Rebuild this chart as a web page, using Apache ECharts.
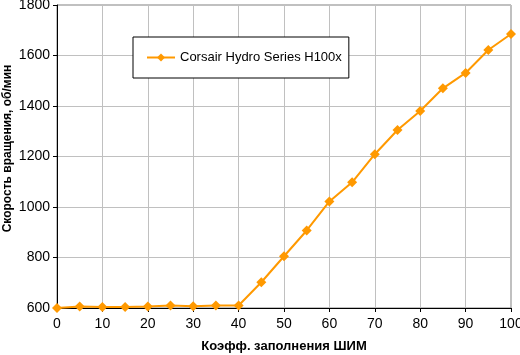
<!DOCTYPE html>
<html>
<head>
<meta charset="utf-8">
<script src="https://cdn.jsdelivr.net/npm/echarts@6/dist/echarts.min.js"></script>
<style>
  html, body { margin: 0; padding: 0; background: #fff; }
  #grafica { width: 520px; height: 355px; }
</style>
</head>
<body>
<div id="grafica"></div>
<script>
// Коэфф. заполнения ШИМ, %
const duty = [0, 5, 10, 15, 20, 25, 30, 35, 40, 45, 50, 55, 60, 65, 70, 75, 80, 85, 90, 95, 100];
// Скорость вращения, об/мин
const rpm = [600, 606, 604, 604, 606, 610, 607, 610, 610, 702, 805, 907, 1022, 1098, 1209, 1305, 1380, 1470, 1531, 1622, 1685];
const seriesName = "Corsair Hydro Series H100x";

const font = "Liberation Sans, Arial, sans-serif";

const option = {
  animation: false,
  backgroundColor: "#ffffff",
  grid: {
    left: 57,
    right: 9,
    top: 5,
    bottom: 47,
    outerBoundsMode: "none",
    containLabel: false,
    show: true,
    borderColor: "#808080",
    borderWidth: 1,
  },
  legend: {
    left: 133,
    top: 37,
    padding: [14, 7, 14, 13],
    backgroundColor: "#ffffff",
    borderColor: "#000000",
    borderWidth: 1,
    borderRadius: 0,
    itemWidth: 28,
    itemHeight: 10,
    itemGap: 4,
    textStyle: { fontFamily: font, fontSize: 13, color: "#000" },
    data: [seriesName],
  },
  xAxis: {
    type: "value",
    min: 0,
    max: 100,
    interval: 10,
    name: "Коэфф. заполнения ШИМ",
    nameLocation: "middle",
    nameGap: 32,
    nameMoveOverlap: false,
    nameTextStyle: { fontFamily: font, fontSize: 13, fontWeight: "bold", color: "#000" },
    axisLine: { onZero: false, lineStyle: { color: "#000", width: 1 } },
    axisTick: { show: true, length: 4, lineStyle: { color: "#000" } },
    axisLabel: { fontFamily: font, fontSize: 14, color: "#000", margin: 9 },
    splitLine: { show: true, lineStyle: { color: "#c0c0c0", width: 1 } },
  },
  yAxis: {
    type: "value",
    min: 600,
    max: 1800,
    interval: 200,
    name: "Скорость вращения, об/мин",
    nameLocation: "middle",
    nameGap: 43,
    nameMoveOverlap: false,
    nameTextStyle: { fontFamily: font, fontSize: 12, fontWeight: "bold", color: "#000", padding: [0, 0, 0, 16] },
    axisLine: { show: true, lineStyle: { color: "#000", width: 1 } },
    axisTick: { show: true, length: 4, lineStyle: { color: "#000" } },
    axisLabel: { fontFamily: font, fontSize: 14, color: "#000", margin: 7, formatter: (v) => String(v) },
    splitLine: { show: true, lineStyle: { color: "#c0c0c0", width: 1 } },
  },
  series: [
    {
      name: seriesName,
      type: "line",
      data: duty.map((d, i) => [d, rpm[i]]),
      symbol: "diamond",
      symbolSize: 10,
      showAllSymbol: true,
      itemStyle: { color: "#ff9900" },
      lineStyle: { color: "#ff9900", width: 2 },
      clip: false,
    },
  ],
};

const createEcharts = () => {
  let myChart = echarts.init(document.querySelector("#grafica"));
  myChart.setOption(option);
};

createEcharts();
</script>
</body>
</html>
